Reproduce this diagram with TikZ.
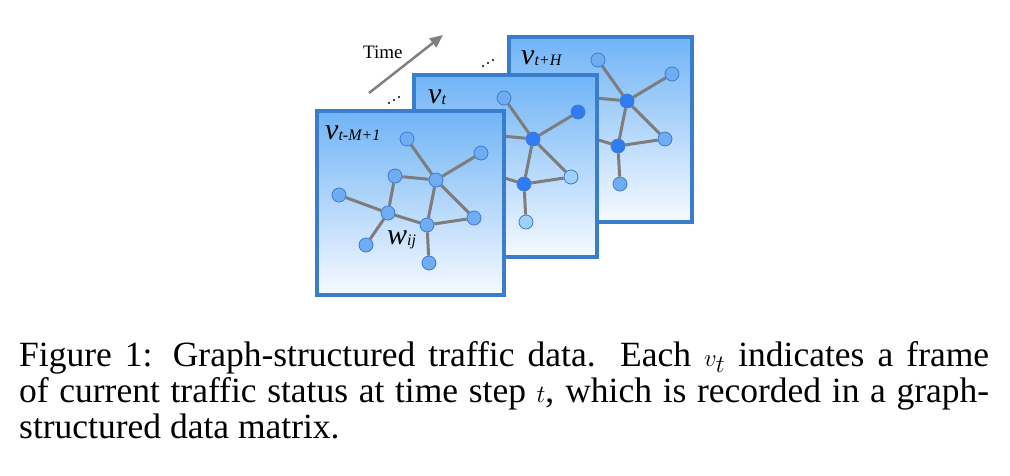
\documentclass[tikz,border=0pt]{standalone}
\usepackage{fontspec}
\setmainfont{Liberation Serif}
\usetikzlibrary{arrows.meta}
\definecolor{frameblue}{RGB}{58,125,205}
\definecolor{topblue}{RGB}{112,180,246}
\definecolor{botblue}{RGB}{246,250,255}
\definecolor{vlight}{RGB}{112,172,242}
\definecolor{vborder}{RGB}{62,122,212}
\definecolor{vdark}{RGB}{48,122,242}
\definecolor{vpale}{RGB}{158,208,250}
\definecolor{edgegray}{RGB}{125,125,125}
\definecolor{arrowgray}{RGB}{128,128,128}
\tikzset{
  frm/.style={draw=frameblue, line width=3.5pt, top color=topblue, bottom color=botblue},
  vtx/.style={circle, draw=vborder, line width=0.8pt, minimum size=14pt, inner sep=0pt, fill=vlight},
  edg/.style={draw=edgegray, line width=3pt},
  lbl/.style={anchor=base west, inner sep=0pt, font=\fontsize{30}{30}\selectfont\itshape},
  dotm/.style={fill=black, circle, inner sep=0pt, minimum size=2.2pt},
}
\newcommand\subsm[1]{{\fontsize{16}{16}\selectfont\raisebox{-1.5pt}{#1}}}
% #1 prefix, #2 shift, #3 n2, #4 n4, #5 n7, #6 n8, #7 n10 fills
\newcommand\mygraph[7]{%
\begin{scope}[shift={#2}]
  \node[vtx] (#1n1) at (407,139) {};
  \node[vtx, fill=#3] (#1n2) at (481,153) {};
  \node[vtx] (#1n3) at (395,176) {};
  \node[vtx, fill=#4] (#1n4) at (436,180) {};
  \node[vtx] (#1n5) at (339,195) {};
  \node[vtx] (#1n6) at (388,213) {};
  \node[vtx, fill=#5] (#1n7) at (474,218) {};
  \node[vtx, fill=#6] (#1n8) at (427,225) {};
  \node[vtx] (#1n9) at (366,245) {};
  \node[vtx, fill=#7] (#1n10) at (429,263) {};
  \draw[edg] (#1n1) -- (#1n4);
  \draw[edg] (#1n2) -- (#1n4);
  \draw[edg] (#1n3) -- (#1n4);
  \draw[edg] (#1n3) -- (#1n6);
  \draw[edg] (#1n5) -- (#1n6);
  \draw[edg] (#1n6) -- (#1n8);
  \draw[edg] (#1n6) -- (#1n9);
  \draw[edg] (#1n4) -- (#1n8);
  \draw[edg] (#1n4) -- (#1n7);
  \draw[edg] (#1n8) -- (#1n7);
  \draw[edg] (#1n8) -- (#1n10);
\end{scope}}
\begin{document}
\begin{tikzpicture}[x=1pt,y=-1pt]
\useasboundingbox (0,0) rectangle (1010,475);
% back frame
\path[frm] (509,37) rectangle (692,222);
\mygraph{b}{(191,-79)}{vlight}{vdark}{vlight}{vdark}{vlight}
\node[lbl] (lb) at (521,64) {v\subsm{t+H}};
% middle frame
\path[frm] (414,75) rectangle (597,257);
\mygraph{m}{(97,-41)}{vdark}{vdark}{vpale}{vdark}{vpale}
\node[lbl] (lm) at (428,103) {v\subsm{t}};
% front frame
\path[frm] (317,111) rectangle (504,295);
\mygraph{f}{(0,0)}{vlight}{vlight}{vlight}{vlight}{vlight}
\node[lbl] (lf) at (325,139) {v\subsm{t-M+1}};
\node[lbl] (lw) at (387,244) {w\subsm{ij}};
% time arrow
\coordinate (ta) at (369,93);
\coordinate (tb) at (443,35);
\draw[draw=arrowgray, line width=2.5pt, -{Triangle[length=13pt,width=11pt]}] (ta) -- (tb);
\node[anchor=base west, inner sep=0pt, font=\fontsize{19}{19}\selectfont] (time) at (363,58) {Time};
% dots
\node[dotm] (d1) at (483,66) {};
\node[dotm] (d2) at (488,63) {};
\node[dotm] (d3) at (493,60) {};
\node[dotm] (e1) at (389,103) {};
\node[dotm] (e2) at (394,100) {};
\node[dotm] (e3) at (399,97) {};
% caption
\node[anchor=base west, inner sep=0pt, text width=970pt, align=justify,
      font=\fontsize{35.5}{36}\selectfont] (cap) at (19,366)
 {Figure 1: Graph-structured traffic data. Each $v_t$ indicates a frame\linebreak of current traffic status at time step $t$, which is recorded in a graph-\linebreak structured data matrix.};
\end{tikzpicture}
\end{document}
